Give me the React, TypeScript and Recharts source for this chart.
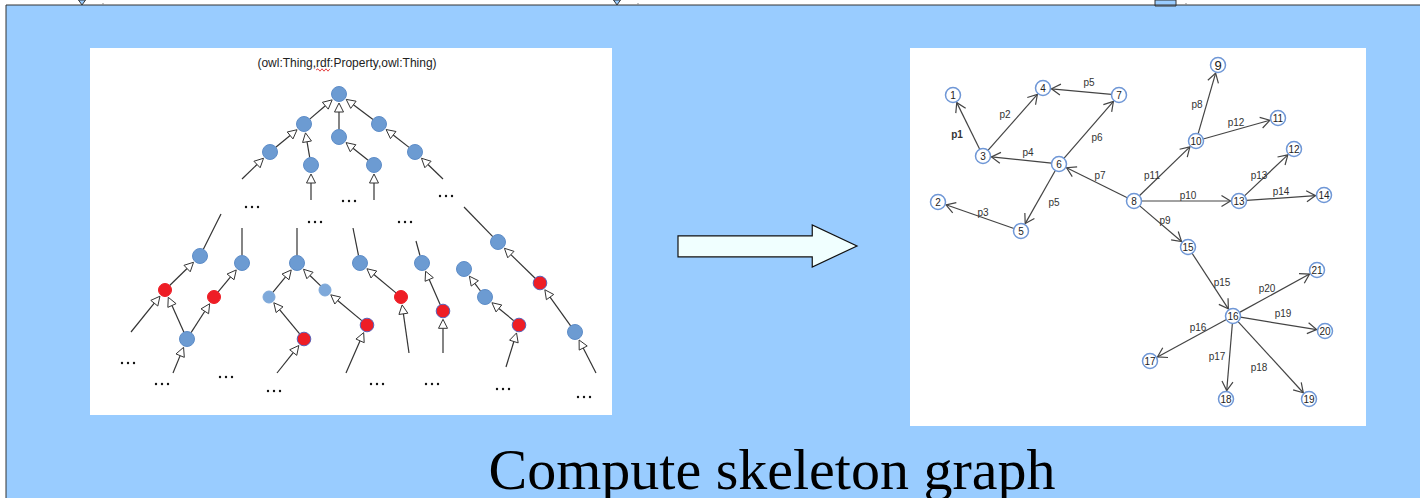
import React from 'react';
import { ScatterChart, Scatter, XAxis, YAxis, ReferenceArea, ReferenceLine } from 'recharts';

const W = 1420;
const H = 498;

// ---------- background / frame ----------
const frameArea = { x1: 6, x2: 1420, y1: 5, y2: 498 };
const frameTop = [{ x: 6, y: 5 }, { x: 1420, y: 5 }];
const frameLeft = [{ x: 6, y: 5 }, { x: 6, y: 498 }];
const leftPanel = { x1: 90, x2: 612, y1: 48, y2: 415 };
const rightPanel = { x1: 910, x2: 1366, y1: 48, y2: 426 };
const bigArrow = { x1: 678, x2: 857, y1: 225, y2: 267 };
const topBox = { x1: 1155, x2: 1176, y1: 0, y2: 6 };
const topMarkers = [{ x: 82, y: 5 }, { x: 617, y: 5 }];
const topTicks = [{ x: 103, y: 5 }, { x: 638, y: 5 }, { x: 1186, y: 5 }];

// ---------- texts ----------
const titleText = [{ x: 772, y: 489, text: 'Compute skeleton graph' }];
const captionText = [{ x: 347, y: 67, text: '(owl:Thing,rdf:Property,owl:Thing)' }];
const squiggle = [{ x: 316, y: 70 }, { x: 330, y: 70 }];

// ---------- left tree ----------
const leftNodes = [
  { id: 'T0', x: 339, y: 94, kind: 'blue' },
  { id: 'T1', x: 304, y: 124, kind: 'blue' },
  { id: 'T2', x: 379, y: 124, kind: 'blue' },
  { id: 'T3', x: 339, y: 137, kind: 'blue' },
  { id: 'T4', x: 270, y: 152, kind: 'blue' },
  { id: 'T5', x: 311, y: 165, kind: 'blue' },
  { id: 'T6', x: 374, y: 165, kind: 'blue' },
  { id: 'T7', x: 415, y: 152, kind: 'blue' },
  { id: 'A', x: 200, y: 256, kind: 'blue' },
  { id: 'B', x: 242, y: 263, kind: 'blue' },
  { id: 'C', x: 187, y: 339, kind: 'blue' },
  { id: 'D', x: 297, y: 263, kind: 'blue' },
  { id: 'E', x: 269, y: 297, kind: 'light' },
  { id: 'F', x: 325, y: 290, kind: 'light' },
  { id: 'G', x: 360, y: 263, kind: 'blue' },
  { id: 'H', x: 422, y: 263, kind: 'blue' },
  { id: 'I', x: 464, y: 269, kind: 'blue' },
  { id: 'J', x: 485, y: 297, kind: 'blue' },
  { id: 'K', x: 498, y: 242, kind: 'blue' },
  { id: 'L', x: 575, y: 332, kind: 'blue' },
  { id: 'R1', x: 165, y: 290, kind: 'red' },
  { id: 'R2', x: 214, y: 297, kind: 'red' },
  { id: 'R3', x: 304, y: 339, kind: 'redo' },
  { id: 'R4', x: 367, y: 325, kind: 'redo' },
  { id: 'R5', x: 401, y: 297, kind: 'red' },
  { id: 'R6', x: 443, y: 311, kind: 'redo' },
  { id: 'R7', x: 519, y: 325, kind: 'redo' },
  { id: 'R8', x: 540, y: 283, kind: 'redo' },
];

// child -> parent (hollow arrowhead at parent)
const leftEdges = [
  ['T1', 'T0'], ['T3', 'T0'], ['T2', 'T0'], ['T4', 'T1'], ['T5', 'T1'], ['T6', 'T3'], ['T7', 'T2'],
  ['R1', 'A'], ['C', 'R1'], ['C', 'R2'], ['R2', 'B'], ['E', 'D'], ['F', 'D'], ['R3', 'E'],
  ['R4', 'F'], ['R5', 'G'], ['R6', 'H'], ['J', 'I'], ['R7', 'J'], ['R8', 'K'], ['L', 'R8'],
];

// loose end -> node (arrowhead at node)
const leftStubsIn = [
  { x: 242, y: 179, to: 'T4' }, { x: 311, y: 200, to: 'T5' }, { x: 374, y: 200, to: 'T6' },
  { x: 443, y: 179, to: 'T7' }, { x: 131, y: 332, to: 'R1' }, { x: 173, y: 373, to: 'C' },
  { x: 277, y: 373, to: 'R3' }, { x: 346, y: 373, to: 'R4' }, { x: 409, y: 353, to: 'R5' },
  { x: 443, y: 353, to: 'R6' }, { x: 506, y: 367, to: 'R7' }, { x: 596, y: 373, to: 'L' },
];

// node -> loose end (plain line)
const leftStubsOut = [
  { from: 'A', x: 221, y: 214 }, { from: 'B', x: 242, y: 228 }, { from: 'D', x: 297, y: 228 },
  { from: 'G', x: 353, y: 228 }, { from: 'H', x: 416, y: 241 }, { from: 'K', x: 464, y: 207 },
];

const ellipses = [
  { x: 252, y: 207 }, { x: 349, y: 201 }, { x: 446, y: 196 }, { x: 315, y: 222 }, { x: 405, y: 222 },
  { x: 128, y: 363 }, { x: 162, y: 384 }, { x: 226, y: 377 }, { x: 274, y: 391 }, { x: 377, y: 384 },
  { x: 432, y: 384 }, { x: 503, y: 389 }, { x: 584, y: 397 },
];

// ---------- right graph ----------
const rightNodes = [
  { id: 1, x: 953, y: 95 }, { id: 2, x: 938, y: 202 }, { id: 3, x: 983, y: 156 },
  { id: 4, x: 1043, y: 88 }, { id: 5, x: 1021, y: 231 }, { id: 6, x: 1059, y: 164 },
  { id: 7, x: 1119, y: 95 }, { id: 8, x: 1134, y: 201 }, { id: 9, x: 1218, y: 65 },
  { id: 10, x: 1196, y: 141 }, { id: 11, x: 1278, y: 118 }, { id: 12, x: 1294, y: 149 },
  { id: 13, x: 1239, y: 201 }, { id: 14, x: 1324, y: 195 }, { id: 15, x: 1188, y: 247 },
  { id: 16, x: 1233, y: 316 }, { id: 17, x: 1150, y: 361 }, { id: 18, x: 1226, y: 399 },
  { id: 19, x: 1309, y: 399 }, { id: 20, x: 1325, y: 331 }, { id: 21, x: 1317, y: 270 },
];

const rightEdges = [
  { from: 3, to: 1, label: 'p1', lx: 957, ly: 134, bold: true },
  { from: 3, to: 4, label: 'p2', lx: 1005, ly: 114 },
  { from: 5, to: 2, label: 'p3', lx: 983, ly: 212 },
  { from: 6, to: 3, label: 'p4', lx: 1028, ly: 152 },
  { from: 7, to: 4, label: 'p5', lx: 1089, ly: 82 },
  { from: 6, to: 5, label: 'p5', lx: 1054, ly: 202 },
  { from: 6, to: 7, label: 'p6', lx: 1097, ly: 137 },
  { from: 8, to: 6, label: 'p7', lx: 1100, ly: 175 },
  { from: 10, to: 9, label: 'p8', lx: 1197, ly: 104 },
  { from: 8, to: 15, label: 'p9', lx: 1165, ly: 220 },
  { from: 8, to: 13, label: 'p10', lx: 1188, ly: 195 },
  { from: 8, to: 10, label: 'p11', lx: 1152, ly: 175 },
  { from: 10, to: 11, label: 'p12', lx: 1236, ly: 122 },
  { from: 13, to: 12, label: 'p13', lx: 1259, ly: 175 },
  { from: 13, to: 14, label: 'p14', lx: 1281, ly: 191 },
  { from: 15, to: 16, label: 'p15', lx: 1222, ly: 282 },
  { from: 16, to: 17, label: 'p16', lx: 1198, ly: 327 },
  { from: 16, to: 18, label: 'p17', lx: 1217, ly: 356 },
  { from: 16, to: 19, label: 'p18', lx: 1259, ly: 367 },
  { from: 16, to: 20, label: 'p19', lx: 1283, ly: 313 },
  { from: 16, to: 21, label: 'p20', lx: 1267, ly: 288 },
];

// ---------- styles ----------
const BG = '#99CCFF';
const NODE_R: Record<string, number> = { blue: 7.5, light: 6, red: 6.5, redo: 6.8 };
const RIGHT_R = 7.5;
const leftById: Record<string, { x: number; y: number; kind: string }> = {};
leftNodes.forEach((n) => (leftById[n.id] = n));
const rightById: Record<number, { x: number; y: number }> = {};
rightNodes.forEach((n) => (rightById[n.id] = n));

const unit = (x1: number, y1: number, x2: number, y2: number) => {
  const dx = x2 - x1;
  const dy = y2 - y1;
  const len = Math.hypot(dx, dy) || 1;
  return { ux: dx / len, uy: dy / len };
};

const treeEdgeShape = (rs: number, rt: number, arrow: boolean) => (p: any) => {
  const x1 = Number(p.x1), y1 = Number(p.y1), x2 = Number(p.x2), y2 = Number(p.y2);
  const { ux, uy } = unit(x1, y1, x2, y2);
  const nx = -uy, ny = ux;
  const sx = x1 + ux * rs, sy = y1 + uy * rs;
  if (!arrow) {
    const ex = x2 - ux * rt, ey = y2 - uy * rt;
    return <line x1={sx} y1={sy} x2={ex} y2={ey} stroke="#333" strokeWidth={1.2} />;
  }
  const tx = x2 - ux * (rt + 1.5), ty = y2 - uy * (rt + 1.5);
  const bx = tx - ux * 9, by = ty - uy * 9;
  const pts = `${tx},${ty} ${bx + nx * 4.5},${by + ny * 4.5} ${bx - nx * 4.5},${by - ny * 4.5}`;
  return (
    <g>
      <line x1={sx} y1={sy} x2={bx} y2={by} stroke="#333" strokeWidth={1.2} />
      <polygon points={pts} fill="#fff" stroke="#333" strokeWidth={1} />
    </g>
  );
};

const graphEdgeShape = (p: any) => {
  const x1 = Number(p.x1), y1 = Number(p.y1), x2 = Number(p.x2), y2 = Number(p.y2);
  const { ux, uy } = unit(x1, y1, x2, y2);
  const nx = -uy, ny = ux;
  const sx = x1 + ux * RIGHT_R, sy = y1 + uy * RIGHT_R;
  const tx = x2 - ux * (RIGHT_R + 1), ty = y2 - uy * (RIGHT_R + 1);
  const bx = tx - ux * 9, by = ty - uy * 9;
  return (
    <g stroke="#444" strokeWidth={1.2} fill="none">
      <line x1={sx} y1={sy} x2={tx} y2={ty} />
      <polyline points={`${bx + nx * 5.5},${by + ny * 5.5} ${tx},${ty} ${bx - nx * 5.5},${by - ny * 5.5}`} />
    </g>
  );
};

const squiggleShape = (p: any) => {
  const x1 = Number(p.x1), y1 = Number(p.y1), x2 = Number(p.x2);
  let d = `M${x1},${y1}`;
  let up = true;
  for (let x = x1 + 2; x <= x2; x += 2) {
    d += ` L${x},${y1 + (up ? -1.2 : 1.2)}`;
    up = !up;
  }
  return <path d={d} stroke="#e03030" strokeWidth={0.9} fill="none" />;
};

const lineShape = (color: string) => (p: any) => (
  <line x1={p.x1} y1={p.y1} x2={p.x2} y2={p.y2} stroke={color} strokeWidth={1} />
);

const arrowAreaShape = (p: any) => {
  const { x, y, width: w, height: h } = p;
  const bt = y + h * 0.26, bb = y + h * 0.76, hx = x + w * 0.75;
  const pts = `${x},${bt} ${hx},${bt} ${hx},${y} ${x + w},${y + h * 0.5} ${hx},${y + h} ${hx},${bb} ${x},${bb}`;
  return <polygon points={pts} fill="#F0FFFF" stroke="#111" strokeWidth={1.2} />;
};

const LeftNodeShape = (p: any) => {
  const k = p.payload.kind;
  const r = NODE_R[k];
  let fill = '#6C9BD2';
  let stroke = '#5E8DC8';
  if (k === 'light') { fill = '#7EA9DA'; stroke = '#7EA9DA'; }
  if (k === 'red') { fill = '#EE1D25'; stroke = '#EE1D25'; }
  if (k === 'redo') { fill = '#EE1D25'; stroke = '#5A62B8'; }
  return <circle cx={p.cx} cy={p.cy} r={r} fill={fill} stroke={stroke} strokeWidth={1} />;
};

const RightNodeShape = (p: any) => (
  <g>
    <circle cx={p.cx} cy={p.cy} r={RIGHT_R} fill="#fff" stroke="#6F97D6" strokeWidth={1.5} />
    <text
      x={p.cx}
      y={p.cy}
      textAnchor="middle"
      dominantBaseline="central"
      fontFamily="Liberation Sans, Arial, sans-serif"
      fontSize={p.payload.id === 9 ? 13 : 10}
      fill="#222"
    >
      {p.payload.id}
    </text>
  </g>
);

const EdgeLabelShape = (p: any) => (
  <text
    x={p.cx}
    y={p.cy}
    textAnchor="middle"
    dominantBaseline="central"
    fontFamily="Liberation Sans, Arial, sans-serif"
    fontSize={10}
    fontWeight={p.payload.bold ? 'bold' : 'normal'}
    fill="#333"
  >
    {p.payload.label}
  </text>
);

const EllipsisShape = (p: any) => (
  <g fill="#111">
    <circle cx={p.cx - 6} cy={p.cy} r={1.2} />
    <circle cx={p.cx} cy={p.cy} r={1.2} />
    <circle cx={p.cx + 6} cy={p.cy} r={1.2} />
  </g>
);

const TitleShape = (p: any) => (
  <text x={p.cx} y={p.cy} textAnchor="middle" fontFamily="Liberation Serif, Times New Roman, serif" fontSize={58} fill="#000">
    {p.payload.text}
  </text>
);

const CaptionShape = (p: any) => (
  <text x={p.cx} y={p.cy} textAnchor="middle" fontFamily="Liberation Sans, Arial, sans-serif" fontSize={12} fill="#222">
    {p.payload.text}
  </text>
);

const MarkerShape = (p: any) => (
  <polygon points={`${p.cx - 3.5},${p.cy - 5} ${p.cx + 3.5},${p.cy - 5} ${p.cx},${p.cy}`} fill={BG} stroke="#333" strokeWidth={1} />
);

const TickShape = (p: any) => (
  <line x1={p.cx} y1={p.cy - 2} x2={p.cx} y2={p.cy} stroke="#888" strokeWidth={1} />
);

const edgeLabelData = rightEdges.map((e) => ({ x: e.lx, y: e.ly, label: e.label, bold: !!e.bold }));

export default function App() {
  return (
    <div style={{ position: 'absolute', left: 0, top: 0, width: W, height: H, background: '#fff' }}>
      <ScatterChart width={W} height={H} margin={{ top: 0, right: 0, bottom: 0, left: 0 }}>
        <XAxis type="number" dataKey="x" domain={[0, W]} allowDataOverflow hide />
        <YAxis type="number" dataKey="y" domain={[0, H]} allowDataOverflow reversed hide />

        <ReferenceArea {...frameArea} fill={BG} fillOpacity={1} stroke="none" ifOverflow="visible" />
        <ReferenceLine segment={frameTop} shape={lineShape('#333')} ifOverflow="visible" />
        <ReferenceLine segment={frameLeft} shape={lineShape('#333')} ifOverflow="visible" />
        <ReferenceArea {...topBox} fill={BG} fillOpacity={1} stroke="#333" ifOverflow="visible" />
        <ReferenceArea {...leftPanel} fill="#fff" fillOpacity={1} stroke="none" ifOverflow="visible" />
        <ReferenceArea {...rightPanel} fill="#fff" fillOpacity={1} stroke="none" ifOverflow="visible" />
        <ReferenceArea {...bigArrow} shape={arrowAreaShape} ifOverflow="visible" />
        <ReferenceLine segment={squiggle} shape={squiggleShape} ifOverflow="visible" />

        {leftEdges.map(([a, b], i) => {
          const s = leftById[a];
          const t = leftById[b];
          return (
            <ReferenceLine
              key={`le${i}`}
              segment={[{ x: s.x, y: s.y }, { x: t.x, y: t.y }]}
              shape={treeEdgeShape(NODE_R[s.kind], NODE_R[t.kind], true)}
              ifOverflow="visible"
            />
          );
        })}
        {leftStubsIn.map((st, i) => {
          const t = leftById[st.to];
          return (
            <ReferenceLine
              key={`li${i}`}
              segment={[{ x: st.x, y: st.y }, { x: t.x, y: t.y }]}
              shape={treeEdgeShape(0, NODE_R[t.kind], true)}
              ifOverflow="visible"
            />
          );
        })}
        {leftStubsOut.map((st, i) => {
          const s = leftById[st.from];
          return (
            <ReferenceLine
              key={`lo${i}`}
              segment={[{ x: s.x, y: s.y }, { x: st.x, y: st.y }]}
              shape={treeEdgeShape(NODE_R[s.kind], 0, false)}
              ifOverflow="visible"
            />
          );
        })}
        {rightEdges.map((e, i) => {
          const s = rightById[e.from];
          const t = rightById[e.to];
          return (
            <ReferenceLine
              key={`re${i}`}
              segment={[{ x: s.x, y: s.y }, { x: t.x, y: t.y }]}
              shape={graphEdgeShape}
              ifOverflow="visible"
            />
          );
        })}

        <Scatter data={topMarkers} shape={MarkerShape} isAnimationActive={false} />
        <Scatter data={topTicks} shape={TickShape} isAnimationActive={false} />
        <Scatter data={leftNodes} shape={LeftNodeShape} isAnimationActive={false} />
        <Scatter data={ellipses} shape={EllipsisShape} isAnimationActive={false} />
        <Scatter data={rightNodes} shape={RightNodeShape} isAnimationActive={false} />
        <Scatter data={edgeLabelData} shape={EdgeLabelShape} isAnimationActive={false} />
        <Scatter data={captionText} shape={CaptionShape} isAnimationActive={false} />
        <Scatter data={titleText} shape={TitleShape} isAnimationActive={false} />
      </ScatterChart>
    </div>
  );
}
